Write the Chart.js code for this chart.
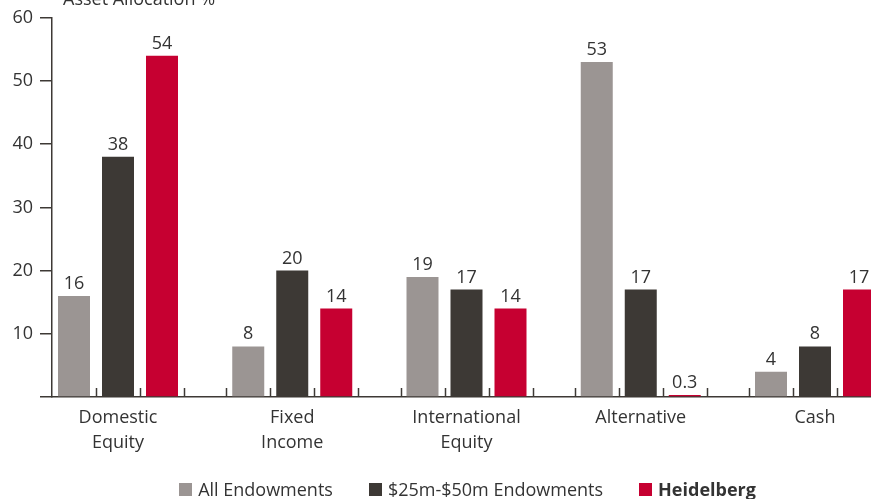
<!DOCTYPE html>
<html>
<head>
<meta charset="utf-8">
<script src="https://cdn.jsdelivr.net/npm/chart.js@4/dist/chart.umd.min.js"></script>
<style>
  html, body { margin: 0; padding: 0; background: #fff; overflow: hidden; }
  #wrap { width: 871px; height: 499px; position: relative; }
</style>
</head>
<body>
<div id="wrap"><canvas id="c" width="871" height="499"></canvas></div>
<script>
// Asset allocation by category (%)
const categories = [['Domestic', 'Equity'], ['Fixed', 'Income'], ['International', 'Equity'], ['Alternative'], ['Cash']];
const allEndowments = [16, 8, 19, 53, 4];
const midEndowments = [38, 20, 17, 17, 8];
const heidelberg = [54, 14, 14, 0.3, 17];
const seriesNames = ['All Endowments', '$25m-$50m Endowments', 'Heidelberg'];
const yTicks = [0, 10, 20, 30, 40, 50, 60];
const axisTitle = 'Asset Allocation %';

const COLORS = ['#9b9593', '#3d3935', '#c60031'];
const INK = '#333333';
const AXIS = '#3d3935';
const FONT = '"Open Sans", "Noto Sans", sans-serif';

const toPoints = arr => arr.map((v, i) => ({ x: i, y: v }));

// Layout: the y axis sits at 52px, category pitch 174.25px, first group centred at 118px
const AXIS_X = 52, RIGHT = 871, PITCH = 174.25, FIRST_CENTER = 118;
const xMin = -(FIRST_CENTER - AXIS_X) / PITCH;
const xMax = xMin + (RIGHT - AXIS_X) / PITCH;

// Value labels above each bar
const valueLabels = {
  id: 'valueLabels',
  afterDatasetsDraw(chart) {
    const ctx = chart.ctx;
    ctx.save();
    ctx.font = '18px ' + FONT;
    ctx.fillStyle = INK;
    ctx.textAlign = 'center';
    ctx.textBaseline = 'alphabetic';
    chart.data.datasets.forEach((ds, di) => {
      chart.getDatasetMeta(di).data.forEach((bar, i) => {
        ctx.fillText(String(ds.data[i].y), bar.x, bar.y - 7);
      });
    });
    ctx.restore();
  }
};

// Short upward ticks on the x axis between bar slots
const slotTicks = {
  id: 'slotTicks',
  afterDraw(chart) {
    const ctx = chart.ctx;
    const metas = chart.data.datasets.map((_, di) => chart.getDatasetMeta(di));
    const base = chart.scales.y.getPixelForValue(0);
    ctx.save();
    ctx.strokeStyle = AXIS;
    ctx.lineWidth = 1.5;
    categories.forEach((_, i) => {
      const xs = metas.map(m => m.data[i].x);
      const pitch = xs[1] - xs[0];
      const marks = [xs[0] - pitch / 2];
      for (let k = 0; k < xs.length - 1; k++) marks.push((xs[k] + xs[k + 1]) / 2);
      marks.push(xs[xs.length - 1] + pitch / 2);
      marks.forEach(px => {
        if (px <= AXIS_X + 1) return;
        ctx.beginPath();
        ctx.moveTo(Math.round(px) + 0.5, base);
        ctx.lineTo(Math.round(px) + 0.5, base - 9);
        ctx.stroke();
      });
    });
    ctx.restore();
  }
};

// Axis title and legend
const extras = {
  id: 'extras',
  afterDraw(chart) {
    const ctx = chart.ctx;
    ctx.save();
    ctx.fillStyle = INK;
    ctx.font = '18px ' + FONT;
    ctx.textAlign = 'left';
    ctx.textBaseline = 'alphabetic';
    ctx.fillText(axisTitle, 63, 5);

    // legend row
    const y = 489.5;
    const items = seriesNames.map((name, i) => ({
      name, color: COLORS[i], font: (i === 2 ? 'bold ' : '') + '18px ' + FONT
    }));
    const box = 13, gap = 6, spacing = 36;
    let total = 0;
    items.forEach((it, i) => {
      ctx.font = it.font;
      it.w = ctx.measureText(it.name).width;
      total += box + gap + it.w + (i < items.length - 1 ? spacing : 0);
    });
    let x = 467.5 - total / 2;
    ctx.textBaseline = 'middle';
    items.forEach(it => {
      ctx.fillStyle = it.color;
      ctx.fillRect(Math.round(x), Math.round(y - box / 2), box, box);
      x += box + gap;
      ctx.font = it.font;
      ctx.fillStyle = INK;
      ctx.fillText(it.name, x, y + 1);
      x += it.w + spacing;
    });
    ctx.restore();
  }
};

new Chart(document.getElementById('c'), {
  type: 'bar',
  data: {
    datasets: [
      { label: seriesNames[0], data: toPoints(allEndowments), backgroundColor: COLORS[0] },
      { label: seriesNames[1], data: toPoints(midEndowments), backgroundColor: COLORS[1] },
      { label: seriesNames[2], data: toPoints(heidelberg), backgroundColor: COLORS[2] }
    ]
  },
  options: {
    responsive: false,
    animation: false,
    devicePixelRatio: 1,
    layout: { padding: { top: 16, right: 0, bottom: 0, left: 0 } },
    datasets: { bar: { categoryPercentage: 132 / PITCH, barPercentage: 32 / 44 } },
    plugins: { legend: { display: false }, tooltip: { enabled: false } },
    scales: {
      x: {
        type: 'linear',
        offset: false,
        min: xMin,
        max: xMax,
        afterBuildTicks: s => { s.ticks = categories.map((_, i) => ({ value: i })); },
        afterFit: s => { s.height = 102; },
        grid: { display: false, offset: false },
        border: { display: true, color: AXIS, width: 1.5 },
        ticks: {
          autoSkip: false, maxRotation: 0, padding: 0,
          color: INK,
          font: { family: FONT, size: 18, lineHeight: 1.42 },
          callback: v => categories[v]
        }
      },
      y: {
        min: 0, max: 60,
        afterBuildTicks: s => { s.ticks = yTicks.map(v => ({ value: v })); },
        afterFit: s => { s.width = AXIS_X; },
        grid: { drawOnChartArea: false, drawTicks: true, tickLength: 12, color: AXIS, lineWidth: 1.5 },
        border: { display: true, color: AXIS, width: 1.5 },
        ticks: {
          padding: 7, color: INK,
          font: { family: FONT, size: 18 },
          callback: v => (v === 0 ? '' : String(v))
        }
      }
    }
  },
  plugins: [valueLabels, slotTicks, extras]
});
</script>
</body>
</html>
